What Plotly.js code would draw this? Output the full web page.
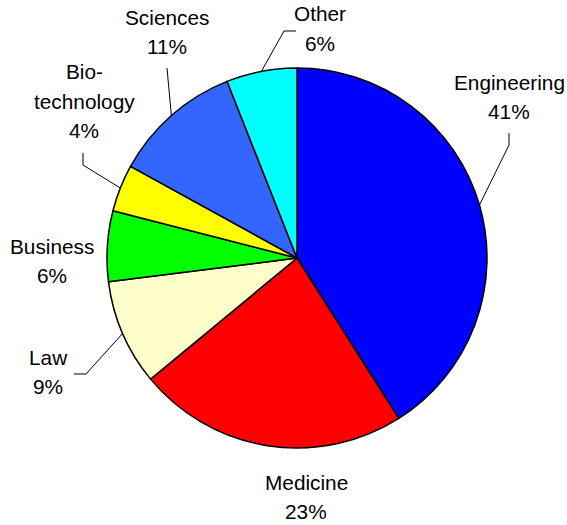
<!DOCTYPE html>
<html>
<head>
<meta charset="utf-8">
<script src="https://cdn.plot.ly/plotly-3.0.1.min.js"></script>
<style>
html,body{margin:0;padding:0;background:#fff;}
#chart{width:567px;height:525px;}
</style>
</head>
<body>
<div id="chart"></div>
<script>
// ---- data ----
var categories = ['Engineering', 'Medicine', 'Law', 'Business', 'Bio-technology', 'Sciences', 'Other'];
var shares = [41, 23, 9, 6, 4, 11, 6];
var labelNames = [['Engineering'], ['Medicine'], ['Law'], ['Business'], ['Bio-', 'technology'], ['Sciences'], ['Other']];
var colors = ['#0000FF', '#FF0000', '#FFFFCC', '#00FF00', '#FFFF00', '#3366FF', '#00FFFF'];

// ---- layout config (pixels) ----
var W = 567, H = 525;
var pie = {cx: 297, cy: 258, r: 190};
var fontSize = 20.8, lineGap = 29.5;
// label block positions: center x, first-line center y
var labelPos = [[509, 82], [306, 482], [48, 357], [52, 246], [84, 72], [167, 17], [320, 14]];
// leader line knee points (after starting on the arc)
var leaderKnees = [[[509, 145], [509, 133]], null, [[86, 374], [74, 374]], null, [[83, 165], [83, 153]], [[167, 68]], [[284, 31], [296, 31]]];

function px(x) { return x / W; }
function py(y) { return 1 - y / H; }

var total = shares.reduce(function (a, b) { return a + b; }, 0);
var annotations = [];
var shapes = [];
var cum = 0;
for (var i = 0; i < shares.length; i++) {
  var mid = (cum + shares[i] / 2) / total * 2 * Math.PI;
  cum += shares[i];
  var lines = labelNames[i].concat([Math.round(shares[i] / total * 100) + '%']);
  for (var j = 0; j < lines.length; j++) {
    annotations.push({
      text: lines[j], showarrow: false,
      xref: 'paper', yref: 'paper',
      x: px(labelPos[i][0]), y: py(labelPos[i][1] + j * lineGap),
      xanchor: 'center', yanchor: 'middle',
      font: {family: 'Liberation Sans, Arial, sans-serif', size: fontSize, color: '#000'}
    });
  }
  if (leaderKnees[i]) {
    var ax = pie.cx + pie.r * Math.sin(mid);
    var ay = pie.cy - pie.r * Math.cos(mid);
    var path = 'M' + px(ax) + ',' + py(ay);
    leaderKnees[i].forEach(function (p) { path += ' L' + px(p[0]) + ',' + py(p[1]); });
    shapes.push({type: 'path', xref: 'paper', yref: 'paper', path: path,
      line: {color: '#000', width: 1}});
  }
}

var trace = {
  type: 'pie',
  labels: categories,
  values: shares,
  sort: false,
  direction: 'clockwise',
  rotation: 0,
  textinfo: 'none',
  hoverinfo: 'none',
  marker: {colors: colors, line: {color: '#000', width: 1.5}},
  domain: {
    x: [(pie.cx - pie.r) / W, (pie.cx + pie.r) / W],
    y: [1 - (pie.cy + pie.r) / H, 1 - (pie.cy - pie.r) / H]
  }
};

var layout = {
  width: W, height: H,
  margin: {l: 0, r: 0, t: 0, b: 0},
  showlegend: false,
  paper_bgcolor: '#fff',
  annotations: annotations,
  shapes: shapes
};

Plotly.newPlot('chart', [trace], layout, {displayModeBar: false, staticPlot: true});
</script>
</body>
</html>
